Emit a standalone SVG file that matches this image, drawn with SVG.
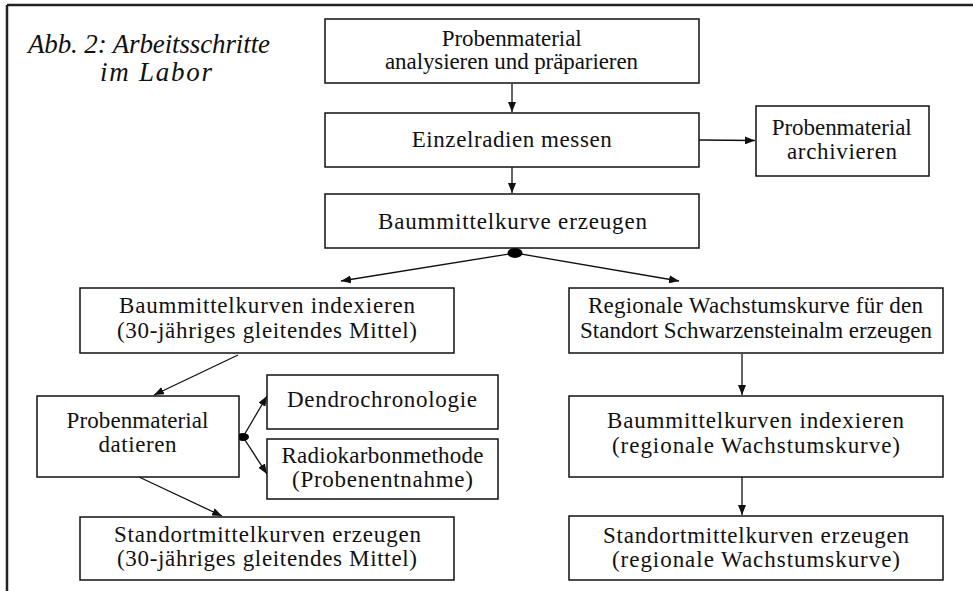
<svg xmlns="http://www.w3.org/2000/svg" width="973" height="591" viewBox="0 0 973 591">
<style>
.box{fill:#fff;stroke:#111;stroke-width:1.5}
.t{font-family:'Liberation Serif',serif;font-size:23px;fill:#111;text-anchor:middle}
.title{font-family:'Liberation Serif',serif;font-size:27px;font-style:italic;fill:#111}
.c{stroke:#111;stroke-width:1.3;fill:none;marker-end:url(#ah)}
</style>
<defs>
<marker id="ah" viewBox="0 0 10 8" refX="10" refY="4" markerWidth="10" markerHeight="8" markerUnits="userSpaceOnUse" orient="auto">
<path d="M0,0 L10,4 L0,8 z" fill="#111"/>
</marker>
</defs>
<rect width="973" height="591" fill="#fff"/>
<g id="frame">
<line x1="7" y1="5" x2="973" y2="5" stroke="#222" stroke-width="2.5"/>
<line x1="7" y1="5" x2="7" y2="591" stroke="#222" stroke-width="2.5"/>
</g>
<g id="title">
<text class="title" x="28" y="53" textLength="242" lengthAdjust="spacing">Abb. 2: Arbeitsschritte</text>
<text class="title" x="100" y="81" textLength="112" lengthAdjust="spacing">im Labor</text>
</g>
<g id="connectors">
<line class="c" x1="512" y1="84" x2="512" y2="112"/>
<line class="c" x1="512" y1="167" x2="512" y2="193"/>
<line class="c" x1="699" y1="140" x2="755" y2="140.5"/>
<line class="c" x1="515" y1="253" x2="341" y2="281"/>
<line class="c" x1="515" y1="253" x2="679" y2="281"/>
<ellipse cx="515" cy="253" rx="7.5" ry="5" fill="#000"/>
<line class="c" x1="238" y1="355" x2="154" y2="395"/>
<line class="c" x1="243" y1="437" x2="267" y2="396"/>
<line class="c" x1="243" y1="437" x2="267" y2="474"/>
<ellipse cx="243" cy="437" rx="6" ry="4" fill="#000"/>
<line class="c" x1="139" y1="477" x2="222" y2="516"/>
<line class="c" x1="742" y1="354" x2="742" y2="395"/>
<line class="c" x1="742" y1="477" x2="742" y2="515"/>
</g>
<g id="n1"><rect class="box" x="325" y="19" width="374" height="64"/>
<text class="t" x="511.7" y="46" textLength="140" lengthAdjust="spacing">Probenmaterial</text><text class="t" x="511.5" y="69" textLength="253" lengthAdjust="spacing">analysieren und präparieren</text></g>
<g id="n2"><rect class="box" x="325" y="113" width="374" height="54"/>
<text class="t" x="511.7" y="147" textLength="200" lengthAdjust="spacing">Einzelradien messen</text></g>
<g id="n3"><rect class="box" x="325" y="194" width="374" height="54"/>
<text class="t" x="512.5" y="229" textLength="269" lengthAdjust="spacing">Baummittelkurve erzeugen</text></g>
<g id="n4"><rect class="box" x="756" y="106" width="173" height="70"/>
<text class="t" x="841.7" y="135" textLength="140" lengthAdjust="spacing">Probenmaterial</text><text class="t" x="842" y="159" textLength="110" lengthAdjust="spacing">archivieren</text></g>
<g id="n5"><rect class="box" x="80" y="288" width="374" height="65"/>
<text class="t" x="267" y="313" textLength="296" lengthAdjust="spacing">Baummittelkurven indexieren</text><text class="t" x="267" y="338" textLength="300" lengthAdjust="spacing">(30-jähriges gleitendes Mittel)</text></g>
<g id="n6"><rect class="box" x="569" y="288" width="374" height="65"/>
<text class="t" x="755.5" y="313" textLength="335" lengthAdjust="spacing">Regionale Wachstumskurve für den</text><text class="t" x="756" y="338" textLength="352" lengthAdjust="spacing">Standort Schwarzensteinalm erzeugen</text></g>
<g id="n7"><rect class="box" x="37" y="396" width="202" height="81"/>
<text class="t" x="137.5" y="428" textLength="142" lengthAdjust="spacing">Probenmaterial</text><text class="t" x="137.5" y="452" textLength="78" lengthAdjust="spacing">datieren</text></g>
<g id="n8"><rect class="box" x="267" y="375" width="231" height="54"/>
<text class="t" x="382" y="407" textLength="190" lengthAdjust="spacing">Dendrochronologie</text></g>
<g id="n9"><rect class="box" x="267" y="439" width="231" height="60"/>
<text class="t" x="382.5" y="463" textLength="202" lengthAdjust="spacing">Radiokarbonmethode</text><text class="t" x="382.5" y="487" textLength="181" lengthAdjust="spacing">(Probenentnahme)</text></g>
<g id="n10"><rect class="box" x="80" y="517" width="374" height="63"/>
<text class="t" x="267.5" y="542" textLength="307" lengthAdjust="spacing">Standortmittelkurven erzeugen</text><text class="t" x="267" y="566" textLength="300" lengthAdjust="spacing">(30-jähriges gleitendes Mittel)</text></g>
<g id="n11"><rect class="box" x="569" y="396" width="374" height="81"/>
<text class="t" x="755.5" y="428" textLength="297" lengthAdjust="spacing">Baummittelkurven indexieren</text><text class="t" x="756" y="453" textLength="288" lengthAdjust="spacing">(regionale Wachstumskurve)</text></g>
<g id="n12"><rect class="box" x="569" y="516" width="374" height="64"/>
<text class="t" x="756" y="543" textLength="306" lengthAdjust="spacing">Standortmittelkurven erzeugen</text><text class="t" x="756" y="567" textLength="288" lengthAdjust="spacing">(regionale Wachstumskurve)</text></g>
</svg>
